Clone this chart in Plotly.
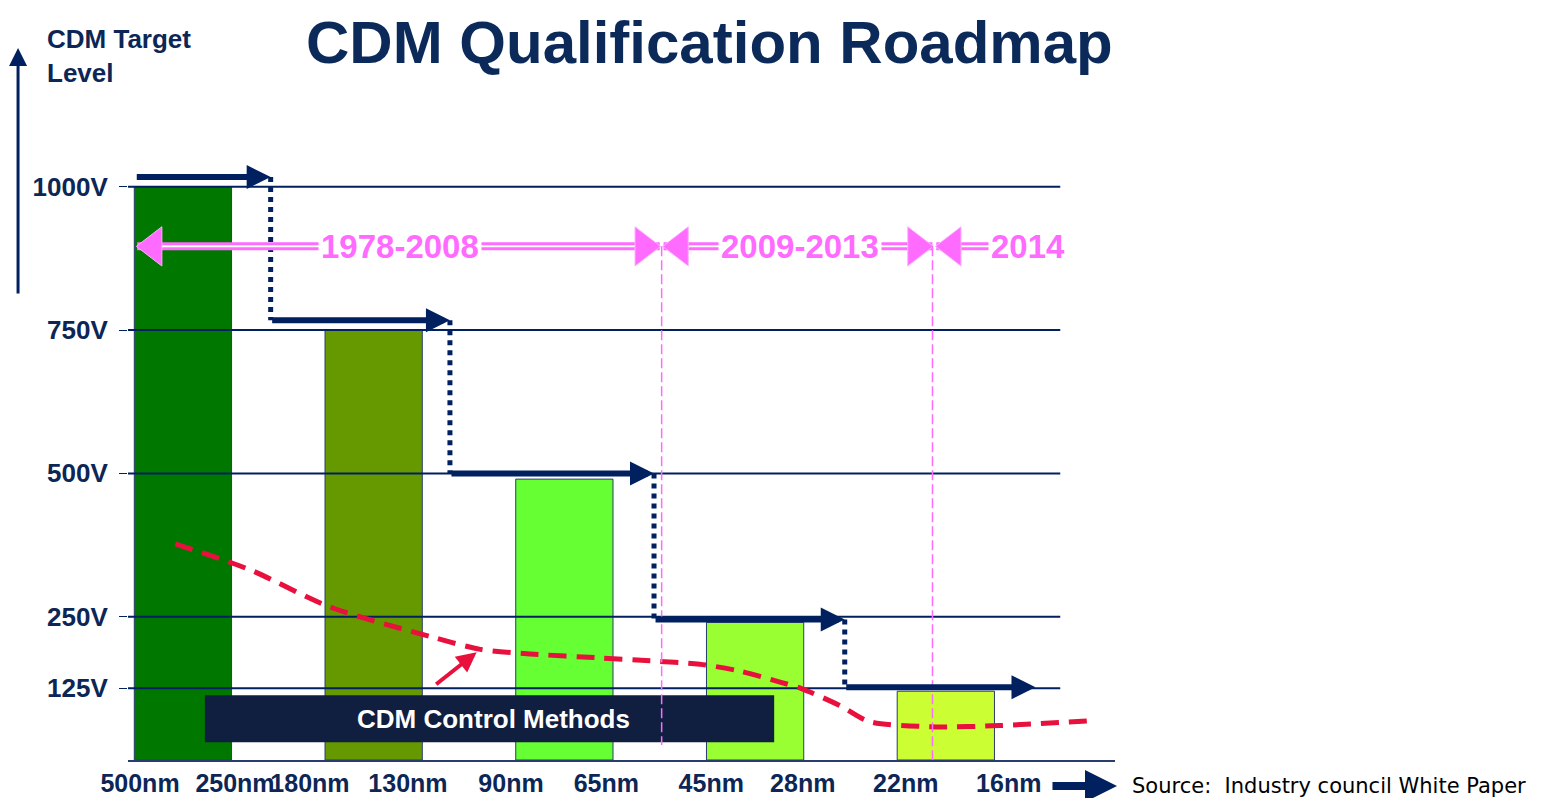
import plotly.graph_objects as go

# x axis: process nodes, two per bar
nodes = ["500nm", "250nm", "180nm", "130nm", "90nm", "65nm", "45nm", "28nm", "22nm", "16nm"]
node_pos = [-0.225, 0.273, 0.666, 1.18, 1.72, 2.22, 2.77, 3.25, 3.79, 4.33]

# bars (CDM target per node pair)
bar_x = [0, 1, 2, 3, 4]
bar_vals = [1000, 750, 490, 240, 120]
bar_colors = ["#007800", "#669900", "#66ff33", "#99ff33", "#ccff33"]

# target levels on the y axis
target_levels = [1000, 750, 500, 250, 125]
target_labels = ["1000V", "750V", "500V", "250V", "125V"]

# navy stepped roadmap arrows
step_edges = [-0.25, 0.46, 1.40, 2.47, 3.47, 4.47]
step_levels = [1017, 767, 500, 245, 127]

# red dashed "CDM control methods" trend
ctrl_x = [-0.04, 0.35, 0.77, 1.30, 1.56, 1.82, 2.19, 2.45, 2.71, 2.92, 3.13, 3.24, 3.45, 3.60, 3.92, 4.28, 4.78]
ctrl_v = [377, 332, 267, 215, 193, 185, 178, 173, 167, 155, 136, 125, 94, 67, 58, 60, 69]

# pink era arrows
eras = ["1978-2008", "2009-2013", "2014"]
era_start = [-0.24, 2.52, 3.95]
era_end = [2.50, 3.93, 4.43]
era_text_x = [1.14, 3.235, 4.43]
era_level = 896

navy = "#002060"
txt_navy = "#0c2656"
pink = "#ff6bff"
red = "#e8103c"
bold = dict(family="Liberation Sans, Arial", weight="bold")

fig = go.Figure()

fig.add_trace(go.Bar(x=bar_x, y=bar_vals, width=0.51, marker_color=bar_colors,
                     marker_line=dict(color="#2a3b6e", width=1)))

# level lines
for lv in target_levels:
    fig.add_trace(go.Scatter(x=[-0.30, 4.60], y=[lv, lv], mode="lines",
                             line=dict(color=navy, width=2)))

# trend curve
fig.add_trace(go.Scatter(x=ctrl_x, y=ctrl_v, mode="lines",
                         line=dict(color=red, width=5, dash="18px,10px", shape="spline", smoothing=0.8)))

# dotted drops between steps
for i in range(len(step_levels) - 1):
    xe = step_edges[i + 1]
    fig.add_trace(go.Scatter(x=[xe, xe], y=[step_levels[i], step_levels[i + 1]], mode="lines",
                             line=dict(color=navy, width=5, dash="dot")))

# pink era shafts (double line) and heads
for i in range(len(eras)):
    fig.add_trace(go.Scatter(x=[era_start[i], era_end[i]], y=[era_level, era_level], mode="lines",
                             line=dict(color=pink, width=8)))
    fig.add_trace(go.Scatter(x=[era_start[i] + 0.05, era_end[i] - 0.05], y=[era_level, era_level], mode="lines",
                             line=dict(color="white", width=2)))
    fig.add_trace(go.Scatter(x=[era_start[i] + 0.085], y=[era_level], mode="markers",
                             marker=dict(symbol="triangle-left", size=34, color=pink,
                                         line=dict(color="#ffb0ff", width=1))))
    if i < 2:
        fig.add_trace(go.Scatter(x=[era_end[i] - 0.085], y=[era_level], mode="markers",
                                 marker=dict(symbol="triangle-right", size=34, color=pink,
                                             line=dict(color="#ffb0ff", width=1))))
    fig.add_annotation(x=era_text_x[i], y=era_level, text=eras[i], showarrow=False,
                       bgcolor="white", borderpad=2,
                       font=dict(size=33, color=pink, **bold))

# step arrows
for i in range(len(step_levels)):
    fig.add_annotation(x=step_edges[i + 1], y=step_levels[i], ax=step_edges[i], ay=step_levels[i],
                       xref="x", yref="y", axref="x", ayref="y", text="", showarrow=True,
                       arrowhead=2, arrowsize=0.8, arrowwidth=6, arrowcolor=navy)

# control methods box
fig.add_shape(type="rect", x0=0.115, x1=3.10, y0=31, y1=113, xref="x", yref="y",
              fillcolor="#101e40", line=dict(width=0), layer="above")
fig.add_annotation(x=1.626, y=72, text="CDM Control Methods", showarrow=False,
                   font=dict(size=26, color="white", **bold))
fig.add_annotation(x=1.54, y=188, ax=1.32, ay=130, xref="x", yref="y", axref="x", ayref="y",
                   text="", showarrow=True, arrowhead=2, arrowsize=1, arrowwidth=4, arrowcolor=red)

# era boundaries
for xb, yb in [(2.51, 26), (3.93, -16)]:
    fig.add_shape(type="line", x0=xb, x1=xb, y0=era_level, y1=yb, xref="x", yref="y",
                  line=dict(color=pink, width=1.5, dash="10px,4px"), layer="above")

# title and axis labels
fig.add_annotation(x=0.5887, y=1.1937, xref="paper", yref="paper", text="CDM Qualification Roadmap",
                   showarrow=False, yanchor="top", borderpad=0,
                   font=dict(size=60, color="#0b2a5a", **bold))
fig.add_annotation(x=-0.0841, y=1.171, xref="paper", yref="paper", text="CDM Target<br>Level",
                   showarrow=False, xanchor="left", yanchor="top", align="left",
                   font=dict(size=26, color=txt_navy, **bold))
fig.add_annotation(x=-0.1114, y=1.130, xref="paper", yref="paper", ax=0, ay=247, text="",
                   showarrow=True, arrowhead=2, arrowsize=1.2, arrowwidth=3, arrowcolor=navy)
fig.add_annotation(x=1.002, y=-0.0413, xref="paper", yref="paper", ax=-66, ay=0, text="",
                   showarrow=True, arrowhead=2, arrowsize=0.8, arrowwidth=8, arrowcolor=navy)
fig.add_annotation(x=1.0152, y=-0.0413, xref="paper", yref="paper", text="Source:  Industry council White Paper",
                   showarrow=False, xanchor="left", yanchor="middle",
                   font=dict(size=21, color="black", family="DejaVu Sans"))

# page body adds an 8px offset, so the figure is 8px smaller than the window
fig.update_layout(
    width=1543, height=790,
    margin=dict(l=120, r=436, t=122, b=38),
    paper_bgcolor="white", plot_bgcolor="white",
    showlegend=False,
    xaxis=dict(range=[-0.288, 4.887], tickvals=node_pos, ticktext=nodes, showgrid=False, zeroline=False,
               showline=True, linecolor="#2a3b6e", linewidth=2, ticks="", tickangle=0, automargin=False,
               ticklabelstandoff=0, tickfont=dict(size=25, color=txt_navy, **bold)),
    yaxis=dict(range=[0, 1099], tickvals=target_levels, ticktext=target_labels, showgrid=False,
               zeroline=False, showline=False, ticks="outside", ticklen=8, tickcolor=navy, automargin=False,
               ticklabelstandoff=6, tickfont=dict(size=26, color=txt_navy, **bold)),
)

fig.write_html("out.html")
